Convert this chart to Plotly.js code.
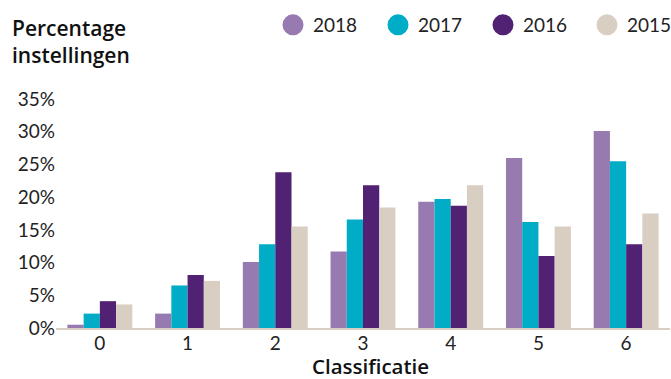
<!DOCTYPE html>
<html>
<head>
<meta charset="utf-8">
<script src="https://cdn.plot.ly/plotly-3.0.1.min.js"></script>
<style>html,body{margin:0;padding:0;background:#fff;}#chart{width:671px;height:379px;}</style>
</head>
<body>
<div id="chart"></div>
<script>
const categories = ['0', '1', '2', '3', '4', '5', '6'];
const years = ['2018', '2017', '2016', '2015'];
const values2018 = [0.5, 2.2, 10.1, 11.7, 19.3, 26.0, 30.1];
const values2017 = [2.2, 6.5, 12.8, 16.6, 19.7, 16.2, 25.5];
const values2016 = [4.1, 8.1, 23.8, 21.8, 18.7, 11.0, 12.8];
const values2015 = [3.6, 7.2, 15.5, 18.4, 21.8, 15.5, 17.5];
const yTicks = [0, 5, 10, 15, 20, 25, 30, 35];
const yTickText = yTicks.map(v => v + '%');

const colors = ['#977AAF', '#00ACC6', '#512173', '#D8CEC2'];
const series = [values2018, values2017, values2016, values2015];
const FONT = 'Lato, "Liberation Sans", sans-serif';
const HFONT = '"Open Sans", Lato, sans-serif';
const legendIds = ['legend', 'legend2', 'legend3', 'legend4'];
const legendCenters = [295, 400, 505, 609];

const traces = [];
series.forEach((vals, i) => {
  traces.push({
    type: 'bar', x: categories, y: vals, name: years[i],
    marker: {color: colors[i], line: {width: 0}},
    showlegend: false, hoverinfo: 'x+y'
  });
});
series.forEach((vals, i) => {
  traces.push({
    type: 'scatter', mode: 'markers', x: [null], y: [null], name: years[i],
    legend: legendIds[i],
    marker: {color: colors[i], size: 16, symbol: 'circle', line: {color: colors[i], width: 5}},
    showlegend: true, hoverinfo: 'skip'
  });
});

const layout = {
  width: 671, height: 379,
  margin: {l: 56, r: 1, t: 99, b: 51},
  paper_bgcolor: '#ffffff', plot_bgcolor: '#ffffff',
  font: {family: FONT, color: '#222', size: 19},
  barmode: 'group', bargap: 0.26, bargroupgap: 0,
  annotations: [{
    text: 'Percentage<br>instellingen',
    font: {family: HFONT, size: 21, weight: 600, color: '#111'},
    xref: 'paper', yref: 'paper',
    x: (10 - 56) / 614, xanchor: 'left', align: 'left',
    y: (328 - 12) / 229, yanchor: 'top', showarrow: false
  }, {
    text: 'Classificatie',
    font: {family: HFONT, size: 20.5, weight: 600, color: '#111'},
    xref: 'paper', yref: 'paper',
    x: (370 - 56) / 614, xanchor: 'center',
    y: (328 - 366) / 229, yanchor: 'middle', showarrow: false
  }],
  showlegend: true,
  xaxis: {
    type: 'category', categoryarray: categories,
    showgrid: false, zeroline: false,
    showline: true, linecolor: '#D8CEC2', linewidth: 2,
    ticks: '', ticklabelstandoff: -3,
    tickfont: {family: FONT, size: 19, color: '#222'},
    fixedrange: true
  },
  yaxis: {
    range: [0, 35], tickmode: 'array', tickvals: yTicks, ticktext: yTickText,
    showgrid: false, zeroline: false, showline: false,
    ticks: '', tickfont: {family: FONT, size: 19, color: '#222'},
    fixedrange: true
  }
};
legendIds.forEach((id, i) => {
  layout[id] = {
    orientation: 'h', xref: 'container', yref: 'container',
    x: (legendCenters[i] - 22) / 671, xanchor: 'left', y: 1 - 6 / 379, yanchor: 'top',
    font: {family: FONT, size: 19, color: '#222'},
    itemwidth: 30, bgcolor: 'rgba(0,0,0,0)'
  };
});

Plotly.newPlot('chart', traces, layout, {displayModeBar: false, staticPlot: true});
</script>
</body>
</html>
